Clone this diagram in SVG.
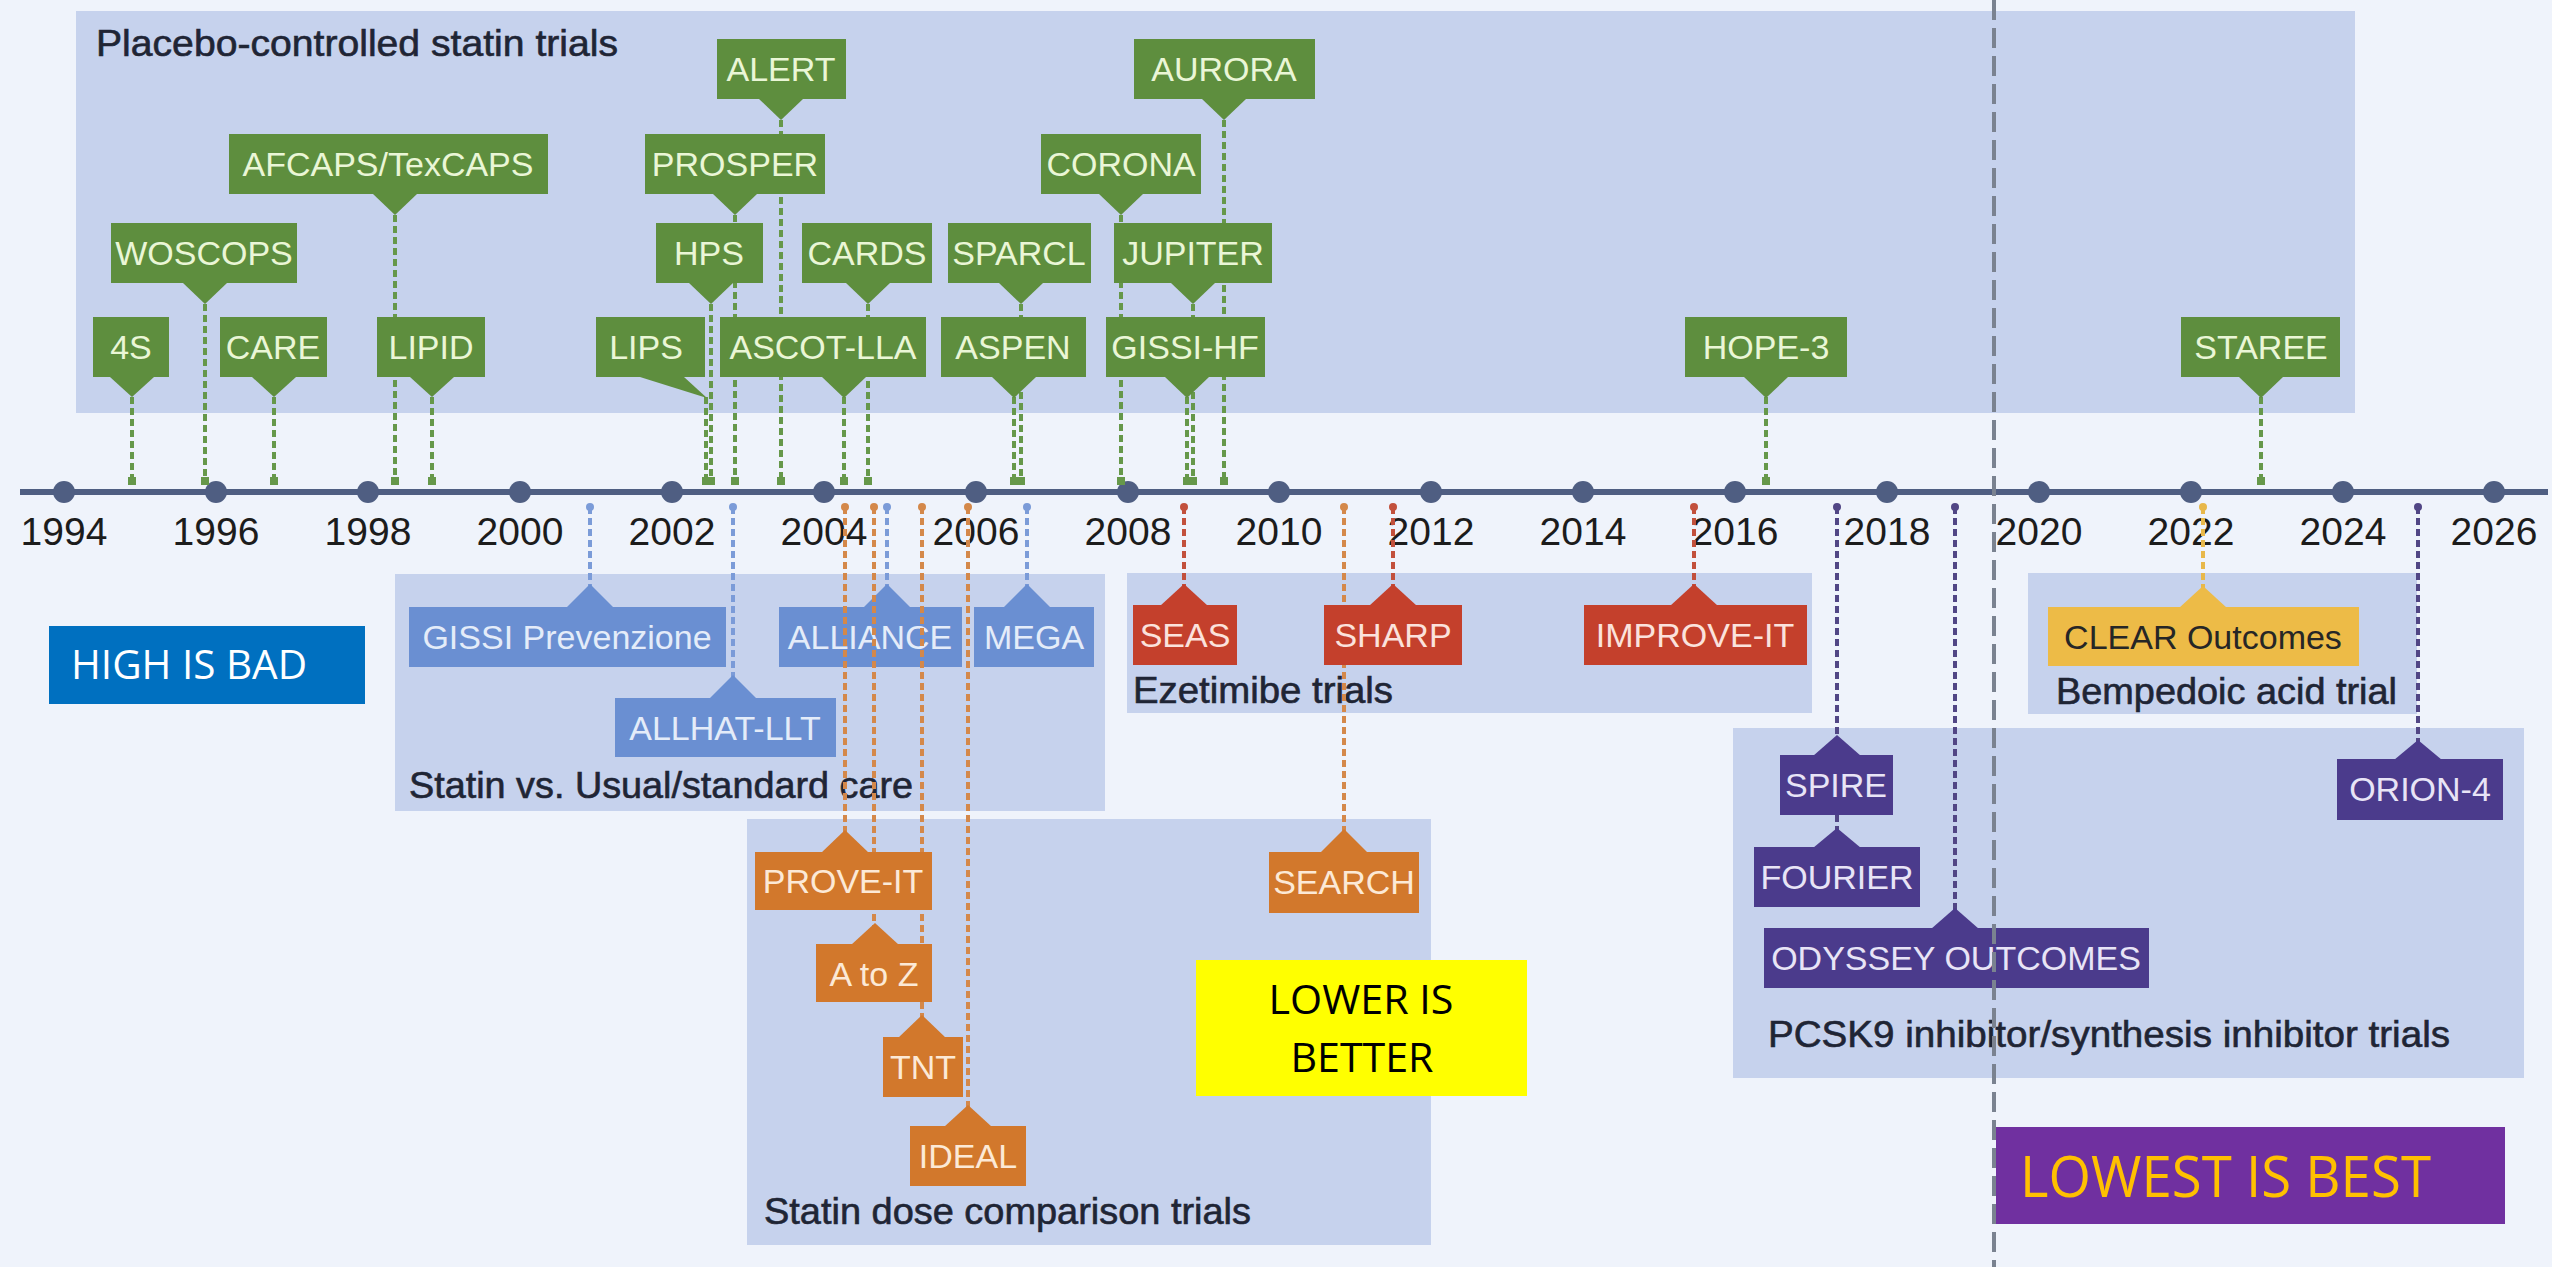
<svg xmlns="http://www.w3.org/2000/svg" width="2552" height="1267" viewBox="0 0 2552 1267">
  <defs>
    <style>
      .bg { fill: #eff3fb; }
      .panel { fill: #c6d2ed; }
      .ptitle { font-family: "Liberation Sans", Arial, sans-serif; font-size: 36px; fill: #1f2535; stroke: #1f2535; stroke-width: 0.6px; }
      .year { font-family: "Liberation Sans", Arial, sans-serif; font-size: 39px; fill: #1c1c1c; text-anchor: middle; }
      .lbl { font-family: "Liberation Sans", Arial, sans-serif; font-size: 34px; text-anchor: middle; }
      .g .box { fill: #5e8e3e; } .g .lbl { fill: #eaf6d6; }
      .b .box { fill: #6a8fd2; } .b .lbl { fill: #e4ecf9; }
      .o .box { fill: #d2782c; } .o .lbl { fill: #fce9d6; }
      .r .box { fill: #c4402c; } .r .lbl { fill: #fbe2dc; }
      .p .box { fill: #4b3b8c; } .p .lbl { fill: #e8e4f6; }
      .y .box { fill: #edbb47; } .y .lbl { fill: #262626; }
      .link { fill: none; stroke-width: 4; stroke-dasharray: 7 4; }
      .lg { stroke: #66984a; } .lgd { fill: #66984a; }
      .lb { stroke: #7b9bd8; } .lbd { fill: #7b9bd8; }
      .lo { stroke: #d4884a; } .lod { fill: #d4884a; }
      .lr { stroke: #c2503c; } .lrd { fill: #c2503c; }
      .lp { stroke: #514685; } .lpd { fill: #514685; }
      .ly { stroke: #e8b84a; } .lyd { fill: #e8b84a; }
      .axis { stroke: #4f5e82; stroke-width: 6; }
      .tick { fill: #4f5e82; }
      .divider { stroke: #7a8290; stroke-width: 4; stroke-dasharray: 20 8; fill: none; }
      .note { font-family: "Open Sans", "Liberation Sans", sans-serif; }
    </style>
  </defs>

  <rect class="bg" x="0" y="0" width="2552" height="1267"/>

  <!-- trial category panels -->
  <g id="panels">
    <rect class="panel" x="76" y="11" width="2279" height="402"/>
    <text class="ptitle" x="96" y="56" textLength="522" lengthAdjust="spacingAndGlyphs">Placebo-controlled statin trials</text>
    <rect class="panel" x="395" y="574" width="710" height="237"/>
    <text class="ptitle" x="409" y="798" textLength="504" lengthAdjust="spacingAndGlyphs">Statin vs. Usual/standard care</text>
    <rect class="panel" x="747" y="819" width="684" height="426"/>
    <text class="ptitle" x="764" y="1224" textLength="487" lengthAdjust="spacingAndGlyphs">Statin dose comparison trials</text>
    <rect class="panel" x="1127" y="573" width="685" height="140"/>
    <text class="ptitle" x="1133" y="703" textLength="260" lengthAdjust="spacingAndGlyphs">Ezetimibe trials</text>
    <rect class="panel" x="2028" y="573" width="389" height="141"/>
    <text class="ptitle" x="2056" y="704" textLength="341" lengthAdjust="spacingAndGlyphs">Bempedoic acid trial</text>
    <rect class="panel" x="1733" y="728" width="791" height="350"/>
    <text class="ptitle" x="1768" y="1047" textLength="682" lengthAdjust="spacingAndGlyphs">PCSK9 inhibitor/synthesis inhibitor trials</text>
  </g>

  <!-- time axis -->
  <g id="axis">
    <line class="axis" x1="20" y1="492" x2="2548" y2="492"/>
    <g class="tick">
      <circle cx="64" cy="492" r="11"/><circle cx="216" cy="492" r="11"/><circle cx="368" cy="492" r="11"/>
      <circle cx="520" cy="492" r="11"/><circle cx="672" cy="492" r="11"/><circle cx="824" cy="492" r="11"/>
      <circle cx="976" cy="492" r="11"/><circle cx="1128" cy="492" r="11"/><circle cx="1279" cy="492" r="11"/>
      <circle cx="1431" cy="492" r="11"/><circle cx="1583" cy="492" r="11"/><circle cx="1735" cy="492" r="11"/>
      <circle cx="1887" cy="492" r="11"/><circle cx="2039" cy="492" r="11"/><circle cx="2191" cy="492" r="11"/>
      <circle cx="2343" cy="492" r="11"/><circle cx="2494" cy="492" r="11"/>
    </g>
    <g>
      <text class="year" x="64" y="545">1994</text><text class="year" x="216" y="545">1996</text>
      <text class="year" x="368" y="545">1998</text><text class="year" x="520" y="545">2000</text>
      <text class="year" x="672" y="545">2002</text><text class="year" x="824" y="545">2004</text>
      <text class="year" x="976" y="545">2006</text><text class="year" x="1128" y="545">2008</text>
      <text class="year" x="1279" y="545">2010</text><text class="year" x="1431" y="545">2012</text>
      <text class="year" x="1583" y="545">2014</text><text class="year" x="1735" y="545">2016</text>
      <text class="year" x="1887" y="545">2018</text><text class="year" x="2039" y="545">2020</text>
      <text class="year" x="2191" y="545">2022</text><text class="year" x="2343" y="545">2024</text>
      <text class="year" x="2494" y="545">2026</text>
    </g>
  </g>

  <!-- placebo-controlled trial links -->
  <g id="connectors-placebo">
    <g class="link lg">
      <line x1="132" y1="397" x2="132" y2="481"/><line x1="205" y1="304" x2="205" y2="481"/>
      <line x1="274" y1="397" x2="274" y2="481"/><line x1="395" y1="215" x2="395" y2="481"/>
      <line x1="432" y1="397" x2="432" y2="481"/><line x1="706" y1="397" x2="706" y2="481"/>
      <line x1="711" y1="304" x2="711" y2="481"/><line x1="735" y1="215" x2="735" y2="481"/>
      <line x1="781" y1="120" x2="781" y2="481"/><line x1="844" y1="397" x2="844" y2="481"/>
      <line x1="868" y1="304" x2="868" y2="481"/><line x1="1014" y1="397" x2="1014" y2="481"/>
      <line x1="1021" y1="304" x2="1021" y2="481"/><line x1="1121" y1="215" x2="1121" y2="481"/>
      <line x1="1187" y1="397" x2="1187" y2="481"/><line x1="1193" y1="304" x2="1193" y2="481"/>
      <line x1="1224" y1="120" x2="1224" y2="481"/><line x1="1766" y1="397" x2="1766" y2="481"/>
      <line x1="2261" y1="397" x2="2261" y2="481"/>
    </g>
    <g class="lgd">
      <rect x="128" y="477" width="8" height="8"/><rect x="201" y="477" width="8" height="8"/>
      <rect x="270" y="477" width="8" height="8"/><rect x="391" y="477" width="8" height="8"/>
      <rect x="428" y="477" width="8" height="8"/><rect x="702" y="477" width="8" height="8"/>
      <rect x="707" y="477" width="8" height="8"/><rect x="731" y="477" width="8" height="8"/>
      <rect x="777" y="477" width="8" height="8"/><rect x="840" y="477" width="8" height="8"/>
      <rect x="864" y="477" width="8" height="8"/><rect x="1010" y="477" width="8" height="8"/>
      <rect x="1017" y="477" width="8" height="8"/><rect x="1117" y="477" width="8" height="8"/>
      <rect x="1183" y="477" width="8" height="8"/><rect x="1189" y="477" width="8" height="8"/>
      <rect x="1220" y="477" width="8" height="8"/><rect x="1762" y="477" width="8" height="8"/>
      <rect x="2257" y="477" width="8" height="8"/>
    </g>
  </g>

  <!-- placebo-controlled trials -->
  <g class="g">
    <g id="alert"><rect class="box" x="717" y="39" width="129" height="60"/><polygon class="box" points="759,99 803,99 781,120"/><text class="lbl" x="781" y="81">ALERT</text></g>
    <g id="aurora"><rect class="box" x="1134" y="39" width="181" height="60"/><polygon class="box" points="1202,99 1246,99 1224,120"/><text class="lbl" x="1224" y="81">AURORA</text></g>
    <g id="afcaps"><rect class="box" x="229" y="134" width="319" height="60"/><polygon class="box" points="373,194 417,194 395,215"/><text class="lbl" x="388" y="176">AFCAPS/TexCAPS</text></g>
    <g id="prosper"><rect class="box" x="645" y="134" width="180" height="60"/><polygon class="box" points="713,194 757,194 735,215"/><text class="lbl" x="735" y="176">PROSPER</text></g>
    <g id="corona"><rect class="box" x="1041" y="134" width="160" height="60"/><polygon class="box" points="1099,194 1143,194 1121,215"/><text class="lbl" x="1121" y="176">CORONA</text></g>
    <g id="woscops"><rect class="box" x="111" y="223" width="186" height="60"/><polygon class="box" points="183,283 227,283 205,304"/><text class="lbl" x="204" y="265">WOSCOPS</text></g>
    <g id="hps"><rect class="box" x="656" y="223" width="107" height="60"/><polygon class="box" points="689,283 733,283 711,304"/><text class="lbl" x="709" y="265">HPS</text></g>
    <g id="cards"><rect class="box" x="802" y="223" width="130" height="60"/><polygon class="box" points="846,283 890,283 868,304"/><text class="lbl" x="867" y="265">CARDS</text></g>
    <g id="sparcl"><rect class="box" x="948" y="223" width="143" height="60"/><polygon class="box" points="999,283 1043,283 1021,304"/><text class="lbl" x="1019" y="265">SPARCL</text></g>
    <g id="jupiter"><rect class="box" x="1114" y="223" width="158" height="60"/><polygon class="box" points="1171,283 1215,283 1193,304"/><text class="lbl" x="1193" y="265">JUPITER</text></g>
    <g id="trial-4s"><rect class="box" x="93" y="317" width="76" height="60"/><polygon class="box" points="110,377 154,377 132,397"/><text class="lbl" x="131" y="359">4S</text></g>
    <g id="care"><rect class="box" x="220" y="317" width="107" height="60"/><polygon class="box" points="252,377 296,377 274,397"/><text class="lbl" x="273" y="359">CARE</text></g>
    <g id="lipid"><rect class="box" x="377" y="317" width="108" height="60"/><polygon class="box" points="410,377 454,377 432,397"/><text class="lbl" x="431" y="359">LIPID</text></g>
    <g id="lips"><rect class="box" x="596" y="317" width="109" height="60"/><polygon class="box" points="640,377 684,377 707,398"/><text class="lbl" x="646" y="359">LIPS</text></g>
    <g id="ascot-lla"><rect class="box" x="720" y="317" width="206" height="60"/><polygon class="box" points="822,377 866,377 844,398"/><text class="lbl" x="823" y="359">ASCOT-LLA</text></g>
    <g id="aspen"><rect class="box" x="941" y="317" width="145" height="60"/><polygon class="box" points="992,377 1036,377 1014,398"/><text class="lbl" x="1013" y="359">ASPEN</text></g>
    <g id="gissi-hf"><rect class="box" x="1106" y="317" width="159" height="60"/><polygon class="box" points="1165,377 1209,377 1187,398"/><text class="lbl" x="1185" y="359">GISSI-HF</text></g>
    <g id="hope-3"><rect class="box" x="1685" y="317" width="162" height="60"/><polygon class="box" points="1744,377 1788,377 1766,398"/><text class="lbl" x="1766" y="359">HOPE-3</text></g>
    <g id="staree"><rect class="box" x="2181" y="317" width="159" height="60"/><polygon class="box" points="2239,377 2283,377 2261,398"/><text class="lbl" x="2261" y="359">STAREE</text></g>
  </g>

  <!-- statin vs usual care links -->
  <g id="connectors-usual">
    <g class="link lb">
      <line x1="590" y1="507" x2="590" y2="586"/><line x1="733" y1="507" x2="733" y2="677"/>
      <line x1="887" y1="507" x2="887" y2="586"/><line x1="1027" y1="507" x2="1027" y2="586"/>
    </g>
    <g class="lbd"><circle cx="590" cy="507" r="4"/><circle cx="733" cy="507" r="4"/><circle cx="887" cy="507" r="4"/><circle cx="1027" cy="507" r="4"/></g>
  </g>

  <g class="b">
    <g id="gissi-prevenzione"><rect class="box" x="409" y="607" width="317" height="60"/><polygon class="box" points="566,608 590,584 614,608"/><text class="lbl" x="567" y="649">GISSI Prevenzione</text></g>
    <g id="alliance"><rect class="box" x="779" y="607" width="183" height="60"/><polygon class="box" points="863,608 887,584 911,608"/><text class="lbl" x="870" y="649">ALLIANCE</text></g>
    <g id="mega"><rect class="box" x="974" y="607" width="120" height="60"/><polygon class="box" points="1003,608 1027,584 1051,608"/><text class="lbl" x="1034" y="649">MEGA</text></g>
    <g id="allhat-llt"><rect class="box" x="615" y="698" width="221" height="59"/><polygon class="box" points="709,699 733,675 757,699"/><text class="lbl" x="725" y="740">ALLHAT-LLT</text></g>
  </g>

  <!-- statin dose comparison links -->
  <g id="connectors-dose">
    <g class="link lo">
      <line x1="845" y1="507" x2="845" y2="832"/><line x1="874" y1="507" x2="874" y2="926"/>
      <line x1="922" y1="507" x2="922" y2="1017"/><line x1="968" y1="507" x2="968" y2="1108"/>
      <line x1="1344" y1="507" x2="1344" y2="831"/>
    </g>
    <g class="lod"><circle cx="845" cy="507" r="4"/><circle cx="874" cy="507" r="4"/><circle cx="922" cy="507" r="4"/><circle cx="968" cy="507" r="4"/><circle cx="1344" cy="507" r="4"/></g>
  </g>

  <g class="o">
    <g id="prove-it"><rect class="box" x="755" y="852" width="177" height="58"/><polygon class="box" points="821,853 845,830 869,853"/><text class="lbl" x="843" y="893">PROVE-IT</text></g>
    <g id="a-to-z"><rect class="box" x="816" y="944" width="116" height="58"/><polygon class="box" points="851,945 875,923 899,945"/><text class="lbl" x="874" y="986">A to Z</text></g>
    <g id="tnt"><rect class="box" x="883" y="1037" width="80" height="60"/><polygon class="box" points="898,1038 922,1015 946,1038"/><text class="lbl" x="923" y="1079">TNT</text></g>
    <g id="ideal"><rect class="box" x="910" y="1126" width="116" height="60"/><polygon class="box" points="944,1127 968,1105 992,1127"/><text class="lbl" x="968" y="1168">IDEAL</text></g>
    <g id="search"><rect class="box" x="1269" y="852" width="150" height="61"/><polygon class="box" points="1320,853 1344,829 1368,853"/><text class="lbl" x="1344" y="894">SEARCH</text></g>
  </g>

  <!-- ezetimibe links -->
  <g id="connectors-ezetimibe">
    <g class="link lr">
      <line x1="1184" y1="507" x2="1184" y2="587"/><line x1="1393" y1="507" x2="1393" y2="587"/><line x1="1694" y1="507" x2="1694" y2="587"/>
    </g>
    <g class="lrd"><circle cx="1184" cy="507" r="4"/><circle cx="1393" cy="507" r="4"/><circle cx="1694" cy="507" r="4"/></g>
  </g>

  <g class="r">
    <g id="seas"><rect class="box" x="1133" y="605" width="104" height="60"/><polygon class="box" points="1160,606 1184,584 1208,606"/><text class="lbl" x="1185" y="647">SEAS</text></g>
    <g id="sharp"><rect class="box" x="1324" y="605" width="138" height="60"/><polygon class="box" points="1369,606 1393,584 1417,606"/><text class="lbl" x="1393" y="647">SHARP</text></g>
    <g id="improve-it"><rect class="box" x="1584" y="605" width="223" height="60"/><polygon class="box" points="1670,606 1694,584 1718,606"/><text class="lbl" x="1695" y="647">IMPROVE-IT</text></g>
  </g>

  <!-- bempedoic acid link -->
  <g id="connectors-bempedoic">
    <line class="link ly" x1="2203" y1="507" x2="2203" y2="588"/>
    <circle class="lyd" cx="2203" cy="507" r="4"/>
  </g>

  <g class="y">
    <g id="clear-outcomes"><rect class="box" x="2048" y="607" width="311" height="59"/><polygon class="box" points="2179,608 2203,586 2227,608"/><text class="lbl" x="2203" y="649">CLEAR Outcomes</text></g>
  </g>

  <!-- PCSK9 links -->
  <g id="connectors-pcsk9">
    <g class="link lp">
      <line x1="1837" y1="507" x2="1837" y2="830"/><line x1="1955" y1="507" x2="1955" y2="910"/><line x1="2418" y1="507" x2="2418" y2="742"/>
    </g>
    <g class="lpd"><circle cx="1837" cy="507" r="4"/><circle cx="1955" cy="507" r="4"/><circle cx="2418" cy="507" r="4"/></g>
  </g>

  <g class="p">
    <g id="spire"><rect class="box" x="1780" y="755" width="113" height="60"/><polygon class="box" points="1813,756 1837,735 1861,756"/><text class="lbl" x="1836" y="797">SPIRE</text></g>
    <g id="fourier"><rect class="box" x="1754" y="847" width="166" height="60"/><polygon class="box" points="1813,848 1837,828 1861,848"/><text class="lbl" x="1837" y="889">FOURIER</text></g>
    <g id="odyssey-outcomes"><rect class="box" x="1764" y="928" width="385" height="60"/><polygon class="box" points="1931,929 1955,908 1979,929"/><text class="lbl" x="1956" y="970">ODYSSEY OUTCOMES</text></g>
    <g id="orion-4"><rect class="box" x="2337" y="759" width="166" height="61"/><polygon class="box" points="2394,760 2418,740 2442,760"/><text class="lbl" x="2420" y="801">ORION-4</text></g>
  </g>

  <!-- vertical guide at 2019 -->
  <g id="divider">
    <line class="divider" x1="1994" y1="0" x2="1994" y2="1267"/>
  </g>

  <!-- callouts -->
  <g id="high-is-bad">
    <rect x="49" y="626" width="316" height="78" fill="#0070c0"/>
    <text class="note" x="71" y="679" font-size="40" fill="#ffffff" textLength="236" lengthAdjust="spacingAndGlyphs">HIGH IS BAD</text>
  </g>
  <g id="lower-is-better">
    <rect x="1196" y="960" width="331" height="136" fill="#ffff00"/>
    <text class="note" x="1361" y="1014" font-size="40" fill="#000000" text-anchor="middle" textLength="185" lengthAdjust="spacingAndGlyphs">LOWER IS</text>
    <text class="note" x="1362" y="1072" font-size="40" fill="#000000" text-anchor="middle" textLength="143" lengthAdjust="spacingAndGlyphs">BETTER</text>
  </g>
  <g id="lowest-is-best">
    <rect x="1996" y="1127" width="509" height="97" fill="#7030a0"/>
    <text class="note" x="2020" y="1197" font-size="57" fill="#ffc000" textLength="411" lengthAdjust="spacingAndGlyphs">LOWEST IS BEST</text>
  </g>
</svg>
